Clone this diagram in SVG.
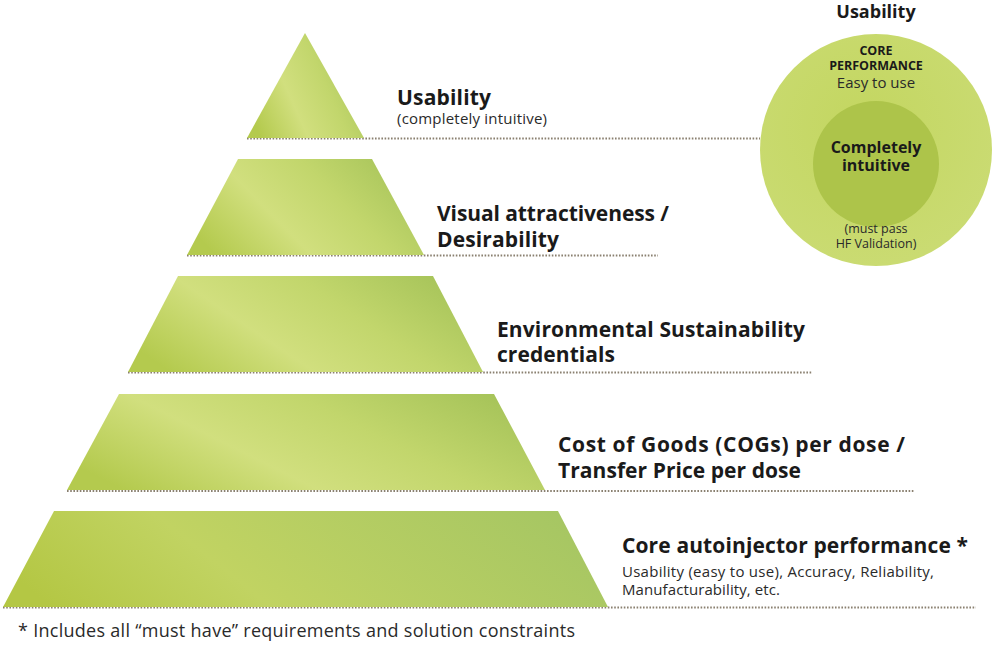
<svg xmlns="http://www.w3.org/2000/svg" width="1000" height="646" viewBox="0 0 1000 646">
<style>
.h{font-family:"Open Sans",Lato,"Liberation Sans",sans-serif;font-weight:700;fill:#1a1a1a}
.r{font-family:"Open Sans",Lato,"Liberation Sans",sans-serif;font-weight:400;fill:#2a2a2a}
.dot{stroke:#8a8070;stroke-width:2;stroke-dasharray:1.6 1.6;fill:none}
</style>
<defs>
<linearGradient id="g" x1="0" y1="0.7" x2="1" y2="0.3">
<stop offset="0" stop-color="#b4ca4e"/>
<stop offset="0.35" stop-color="#d1df7e"/>
<stop offset="0.65" stop-color="#c2d66c"/>
<stop offset="1" stop-color="#a7c45a"/>
</linearGradient>
<linearGradient id="g5" x1="0" y1="0.6" x2="1" y2="0.4">
<stop offset="0" stop-color="#b4c744"/>
<stop offset="0.35" stop-color="#c1d362"/>
<stop offset="1" stop-color="#a6c663"/>
</linearGradient>
<radialGradient id="go" cx="0.45" cy="0.4" r="0.6">
<stop offset="0" stop-color="#c3d660"/>
<stop offset="1" stop-color="#cadb72"/>
</radialGradient>
</defs>
<g id="connectors">
<line class="dot" x1="247" y1="138.5" x2="760" y2="138.5"/>
<line class="dot" x1="187" y1="255.5" x2="658" y2="255.5"/>
<line class="dot" x1="128" y1="372.5" x2="812" y2="372.5"/>
<line class="dot" x1="67" y1="491" x2="915" y2="491"/>
<line class="dot" x1="3" y1="607.5" x2="976" y2="607.5"/>
</g>
<g id="tier1">
<polygon points="305,33 364,138 247,138" fill="url(#g)"/>
<text class="h" x="397" y="105" font-size="21" textLength="94">Usability</text>
<text class="r" x="397" y="124" font-size="15" textLength="150">(completely intuitive)</text>
</g>
<g id="tier2">
<polygon points="238,159 372,159 424,255 187,255" fill="url(#g)"/>
<text class="h" x="437" y="221" font-size="21" textLength="232">Visual attractiveness /</text>
<text class="h" x="437" y="247" font-size="21" textLength="122">Desirability</text>
</g>
<g id="tier3">
<polygon points="178,276 433,276 483,372 128,372" fill="url(#g)"/>
<text class="h" x="497" y="337" font-size="21" textLength="308">Environmental Sustainability</text>
<text class="h" x="497" y="362" font-size="21" textLength="118">credentials</text>
</g>
<g id="tier4">
<polygon points="119,394 494,394 545,490 67,490" fill="url(#g)"/>
<text class="h" x="558" y="452" font-size="21" textLength="347">Cost of Goods (COGs) per dose /</text>
<text class="h" x="558" y="478" font-size="21" textLength="243">Transfer Price per dose</text>
</g>
<g id="tier5">
<polygon points="54,511 558,511 608,607 3,607" fill="url(#g5)"/>
<text class="h" x="622" y="553" font-size="21" textLength="346">Core autoinjector performance *</text>
<text class="r" x="622" y="577" font-size="15" textLength="312">Usability (easy to use), Accuracy, Reliability,</text>
<text class="r" x="622" y="595" font-size="15" textLength="158">Manufacturability, etc.</text>
</g>
<g id="usability-circle">
<text class="h" x="876" y="18" font-size="18" text-anchor="middle">Usability</text>
<circle cx="876" cy="150" r="116" fill="url(#go)"/>
<circle cx="876" cy="164" r="63" fill="#adc44a"/>
<text class="h" x="876" y="55" font-size="12.5" text-anchor="middle">CORE</text>
<text class="h" x="876" y="70" font-size="12.5" text-anchor="middle">PERFORMANCE</text>
<text class="r" x="876" y="88" font-size="15" text-anchor="middle">Easy to use</text>
<text class="h" x="876" y="153" font-size="16" text-anchor="middle">Completely</text>
<text class="h" x="876" y="171" font-size="16" text-anchor="middle">intuitive</text>
<text class="r" x="876" y="233" font-size="12.5" text-anchor="middle">(must pass</text>
<text class="r" x="876" y="248" font-size="12.5" text-anchor="middle">HF Validation)</text>
</g>
<text class="r" x="18" y="637" font-size="18" textLength="557">* Includes all “must have” requirements and solution constraints</text>
</svg>
